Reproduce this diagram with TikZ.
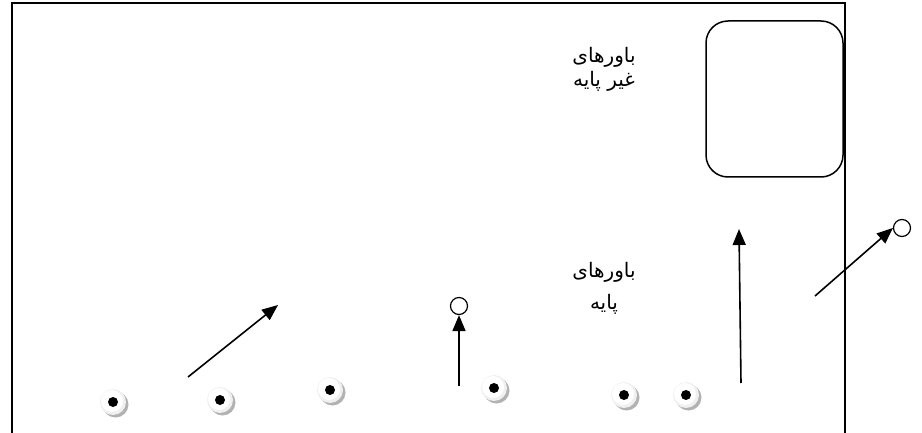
\documentclass[tikz,border=0pt]{standalone}
\usepackage{fontspec}
\TeXXeTstate=1
\newfontfamily\arabicfont[Script=Arabic]{DejaVu Sans}
\usetikzlibrary{arrows.meta}
\begin{document}
\begin{tikzpicture}[x=1pt,y=-1pt,
  frameline/.style={line width=1.8pt},
  arr/.style={line width=1.6pt,-{Triangle[length=16pt,width=13pt]}},
  ring/.style={circle,draw,line width=1.2pt,minimum size=17pt,inner sep=0pt},
  lbl/.style={font=\arabicfont\fontsize{20}{24}\selectfont,align=center},
  dotmark/.style={circle,minimum size=26pt,inner sep=0pt}]
\useasboundingbox (0,0) rectangle (922,433);
\draw[frameline] (12,433) -- (12,3) -- (845,3) -- (845,433);
\draw[line width=1.5pt,rounded corners=22pt] (706,21) rectangle (843,177);
\node[lbl] (t1) at (604,69) {\beginR باورهای\endR\\\beginR غیر پایه\endR};
\node[lbl] (t2) at (604,288) {\beginR باورهای\endR\\[8pt]\beginR پایه\endR};
\foreach \n/\x/\y in {d1/113/402,d2/220/400,d3/330/390,d4/494/388,d5/624/395,d6/686/395}{
  \fill[gray!60] (\x+2.5,\y+2.5) circle (13);
  \fill[gray!12] (\x,\y) circle (13);
  \fill[white] (\x-1,\y-1) circle (11);
  \node[dotmark] (\n) at (\x,\y) {};
  \fill[black] (\x,\y) circle (5);
}
\coordinate (a1s) at (188,377);
\coordinate (a1e) at (278,305);
\draw[arr] (a1s) -- (a1e);
\node[ring] (c1) at (459,306) {};
\coordinate (a2s) at (459,386);
\draw[arr] (a2s) -- (c1.south);
\coordinate (a3s) at (741,383);
\coordinate (a3e) at (739,229);
\draw[arr] (a3s) -- (a3e);
\node[ring] (c2) at (902,228) {};
\coordinate (a4s) at (815,296);
\draw[arr] (a4s) -- (c2.west);
\end{tikzpicture}
\end{document}
